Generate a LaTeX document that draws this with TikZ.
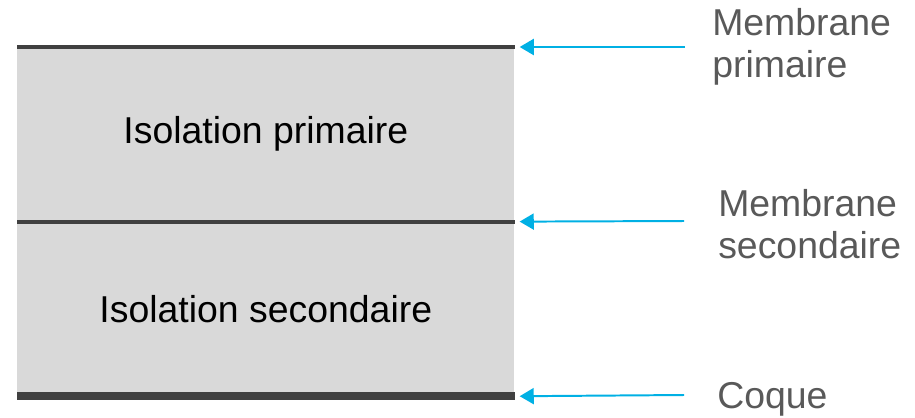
\documentclass[tikz,border=0pt]{standalone}
\usepackage{fontspec}
\setmainfont{Liberation Sans}
\usetikzlibrary{arrows.meta, positioning}
\definecolor{layercolor}{RGB}{217,217,217}
\definecolor{membcolor}{RGB}{64,64,64}
\definecolor{arrowcolor}{RGB}{0,176,228}
\definecolor{labelcolor}{RGB}{89,89,89}

\begin{document}
\begin{tikzpicture}[
    x=0.025cm, y=-0.025cm,
    layer/.style={fill=layercolor, minimum width=12.425cm, minimum height=4.35cm, inner sep=0pt, font=\fontsize{26.6}{29.2}\selectfont},
    membrane/.style={draw=membcolor, line width=2.85pt},
    note/.style={text=labelcolor, inner sep=0pt, anchor=base west, align=left, font=\fontsize{26.6}{29.2}\selectfont},
    arrow/.style={-{Triangle[length=10pt, width=11.4pt]}, draw=arrowcolor, line width=1.4pt}
]
    \useasboundingbox (0,0) rectangle (915,417);

    % Layers
    \node[layer, anchor=north west] (isoI) at (17,47) {Isolation primaire};
    \node[layer, below=0pt of isoI] (isoII) {Isolation secondaire};

    % Membranes and hull
    \draw[membrane] (isoI.north west) -- (isoI.north east);
    \draw[membrane] (isoI.south west) -- (isoI.south east);
    \draw[membrane, line width=5.7pt] (isoII.south west) -- (isoII.south east);

    % Labels (anchored on the last line)
    \node[note] (mp) at (712,77) {Membrane\\primaire};
    \node[note] (ms) at (718,258) {Membrane\\secondaire};
    \node[note] (hull) at (717,408) {Coque};

    % Arrows
    \coordinate (mpa) at (685,47);
    \coordinate (msa) at (684,221);
    \coordinate (hulla) at (684,395);
    \draw[arrow] (mpa) -- ([xshift=0.125cm]isoI.north east);
    \draw[arrow] (msa) -- ([xshift=0.125cm]isoI.south east);
    \draw[arrow] (hulla) -- ([xshift=0.125cm]isoII.south east);
\end{tikzpicture}
\end{document}
